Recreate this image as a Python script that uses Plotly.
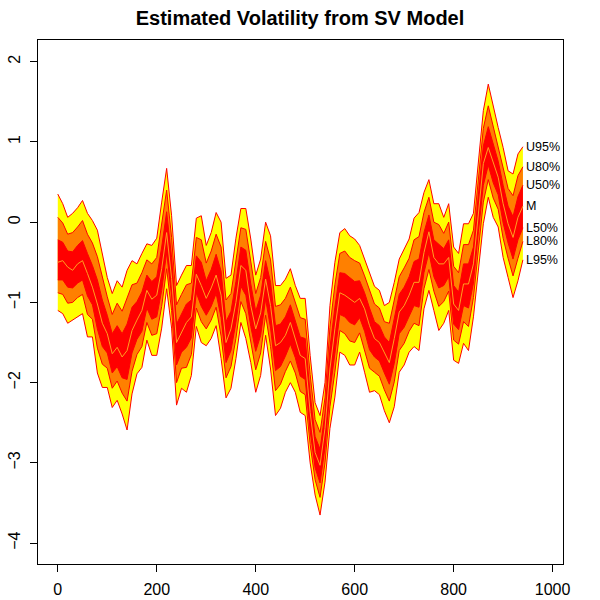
import plotly.graph_objects as go

# time index (every 10 steps)
t = list(range(0, 950, 10))

u95 = [0.35, 0.23, 0.06, 0.11, 0.18, 0.27, 0.11, 0.02, -0.10, -0.39,
       -0.69, -0.89, -0.73, -0.81, -0.60, -0.48, -0.52, -0.39, -0.27, -0.29,
       -0.20, 0.25, 0.67, 0.08, -0.79, -0.66, -0.54, -0.54, 0.05, 0.08,
       -0.29, -0.13, 0.12, 0.00, -0.70, -0.66, -0.20, 0.17, 0.17, -0.21,
       -0.66, -0.46, 0.00, -0.17, -0.79, -0.79, -0.71, -0.58, -0.79, -0.95,
       -0.95, -1.66, -2.25, -2.41, -2.00, -1.04, -0.50, -0.13, -0.08, -0.17,
       -0.21, -0.29, -0.46, -0.62, -0.80, -0.85, -1.04, -1.00, -0.75, -0.46,
       -0.33, -0.21, 0.05, 0.12, 0.37, 0.53, 0.23, 0.23, 0.06, 0.23,
       -0.31, -0.39, -0.02, -0.02, 0.11, 0.73, 1.39, 1.72, 1.43, 1.18,
       0.93, 0.64, 0.60, 0.85, 0.94]

u80 = [0.06, -0.01, -0.15, -0.13, -0.06, 0.02, -0.15, -0.26, -0.43, -0.69,
       -0.93, -1.15, -1.01, -1.11, -0.94, -0.78, -0.76, -0.63, -0.47, -0.52,
       -0.44, -0.03, 0.40, -0.19, -1.03, -0.90, -0.78, -0.76, -0.19, -0.22,
       -0.51, -0.36, -0.15, -0.31, -0.97, -0.89, -0.47, -0.07, -0.09, -0.49,
       -0.89, -0.69, -0.24, -0.47, -1.05, -1.03, -0.95, -0.81, -1.01, -1.19,
       -1.21, -1.90, -2.46, -2.62, -2.19, -1.31, -0.78, -0.39, -0.36, -0.44,
       -0.48, -0.51, -0.67, -0.85, -1.02, -1.07, -1.24, -1.26, -0.99, -0.68,
       -0.57, -0.45, -0.22, -0.18, 0.12, 0.31, 0.00, -0.03, -0.14, 0.00,
       -0.55, -0.63, -0.28, -0.28, -0.10, 0.53, 1.17, 1.45, 1.19, 0.97,
       0.69, 0.42, 0.33, 0.58, 0.69]

u50 = [-0.22, -0.25, -0.36, -0.37, -0.29, -0.23, -0.39, -0.54, -0.72, -0.97,
       -1.16, -1.39, -1.29, -1.39, -1.27, -1.06, -0.99, -0.87, -0.66, -0.74,
       -0.68, -0.31, 0.13, -0.44, -1.27, -1.14, -1.02, -0.97, -0.42, -0.50,
       -0.73, -0.59, -0.40, -0.61, -1.24, -1.11, -0.74, -0.31, -0.35, -0.77,
       -1.11, -0.91, -0.48, -0.75, -1.29, -1.27, -1.18, -1.03, -1.23, -1.43,
       -1.45, -2.14, -2.67, -2.83, -2.38, -1.57, -1.06, -0.63, -0.64, -0.69,
       -0.74, -0.73, -0.88, -1.07, -1.24, -1.29, -1.43, -1.50, -1.22, -0.90,
       -0.81, -0.68, -0.49, -0.46, -0.13, 0.09, -0.22, -0.27, -0.33, -0.22,
       -0.79, -0.87, -0.52, -0.52, -0.31, 0.34, 0.95, 1.19, 0.96, 0.76,
       0.46, 0.20, 0.07, 0.32, 0.46]

med = [-0.50, -0.48, -0.56, -0.60, -0.52, -0.48, -0.64, -0.81, -1.02, -1.26,
       -1.39, -1.64, -1.56, -1.68, -1.60, -1.35, -1.22, -1.10, -0.85, -0.96,
       -0.91, -0.58, -0.13, -0.70, -1.50, -1.37, -1.25, -1.18, -0.65, -0.79,
       -0.95, -0.82, -0.66, -0.91, -1.50, -1.33, -1.00, -0.54, -0.60, -1.04,
       -1.33, -1.13, -0.71, -1.04, -1.54, -1.50, -1.41, -1.25, -1.45, -1.66,
       -1.70, -2.37, -2.87, -3.03, -2.57, -1.83, -1.33, -0.88, -0.91, -0.95,
       -1.00, -0.95, -1.08, -1.29, -1.45, -1.50, -1.62, -1.75, -1.45, -1.12,
       -1.04, -0.91, -0.75, -0.75, -0.38, -0.12, -0.44, -0.52, -0.52, -0.44,
       -1.02, -1.10, -0.77, -0.77, -0.52, 0.15, 0.73, 0.93, 0.73, 0.56,
       0.23, -0.02, -0.19, 0.06, 0.20]

l50 = [-0.72, -0.72, -0.81, -0.82, -0.76, -0.72, -0.92, -1.03, -1.33, -1.55,
       -1.63, -1.88, -1.80, -1.94, -1.96, -1.63, -1.46, -1.36, -1.07, -1.21,
       -1.18, -0.85, -0.38, -0.92, -1.78, -1.62, -1.56, -1.44, -0.88, -1.05,
       -1.16, -1.05, -0.89, -1.19, -1.75, -1.60, -1.25, -0.80, -0.91, -1.30,
       -1.61, -1.41, -0.96, -1.32, -1.85, -1.80, -1.67, -1.52, -1.69, -1.92,
       -1.96, -2.60, -3.06, -3.25, -2.81, -2.10, -1.64, -1.15, -1.18, -1.25,
       -1.28, -1.19, -1.36, -1.59, -1.68, -1.73, -1.88, -2.02, -1.76, -1.39,
       -1.31, -1.17, -1.04, -1.06, -0.63, -0.38, -0.68, -0.82, -0.79, -0.68,
       -1.27, -1.34, -1.04, -1.07, -0.76, -0.12, 0.46, 0.71, 0.49, 0.34,
       -0.01, -0.26, -0.46, -0.22, -0.07]

l80 = [-0.88, -0.90, -1.01, -1.00, -0.94, -0.90, -1.15, -1.21, -1.57, -1.77,
       -1.82, -2.07, -1.98, -2.13, -2.23, -1.86, -1.65, -1.55, -1.25, -1.41,
       -1.39, -1.05, -0.58, -1.10, -2.00, -1.82, -1.81, -1.65, -1.07, -1.24,
       -1.33, -1.22, -1.06, -1.42, -1.94, -1.80, -1.45, -0.99, -1.14, -1.49,
       -1.84, -1.63, -1.16, -1.55, -2.10, -2.02, -1.86, -1.73, -1.88, -2.11,
       -2.15, -2.77, -3.21, -3.43, -3.00, -2.30, -1.87, -1.35, -1.39, -1.48,
       -1.50, -1.38, -1.59, -1.82, -1.87, -1.92, -2.09, -2.23, -1.99, -1.60,
       -1.51, -1.36, -1.26, -1.29, -0.83, -0.59, -0.86, -1.05, -0.99, -0.86,
       -1.47, -1.52, -1.24, -1.30, -0.94, -0.33, 0.25, 0.53, 0.30, 0.16,
       -0.20, -0.45, -0.67, -0.45, -0.24]

l95 = [-1.10, -1.14, -1.26, -1.22, -1.18, -1.14, -1.43, -1.43, -1.88, -2.06,
       -2.06, -2.31, -2.22, -2.39, -2.59, -2.14, -1.89, -1.81, -1.47, -1.66,
       -1.66, -1.32, -0.83, -1.32, -2.28, -2.07, -2.12, -1.91, -1.30, -1.50,
       -1.54, -1.45, -1.29, -1.70, -2.19, -2.07, -1.70, -1.25, -1.45, -1.75,
       -2.12, -1.91, -1.41, -1.83, -2.41, -2.32, -2.12, -2.00, -2.12, -2.37,
       -2.41, -3.00, -3.40, -3.65, -3.24, -2.57, -2.18, -1.62, -1.66, -1.78,
       -1.78, -1.62, -1.87, -2.12, -2.10, -2.15, -2.35, -2.50, -2.30, -1.87,
       -1.78, -1.62, -1.55, -1.60, -1.08, -0.85, -1.10, -1.35, -1.26, -1.10,
       -1.72, -1.76, -1.51, -1.60, -1.18, -0.60, -0.02, 0.31, 0.06, -0.06,
       -0.44, -0.69, -0.94, -0.73, -0.47]

band_labels = ["U95%", "U80%", "U50%", "M", "L50%", "L80%", "L95%"]

YELLOW = "#FFFF00"
ORANGE = "#FF8000"
RED = "#FF0000"
MEDCOL = "#FFA020"

fig = go.Figure()

def band(upper, lower, fillcol):
    fig.add_trace(go.Scatter(x=t, y=upper, mode="lines",
                             line=dict(color=RED, width=1),
                             showlegend=False, hoverinfo="skip"))
    fig.add_trace(go.Scatter(x=t, y=lower, mode="lines", fill="tonexty",
                             fillcolor=fillcol,
                             line=dict(color=RED, width=1),
                             showlegend=False, hoverinfo="skip"))

band(u95, l95, YELLOW)
band(u80, l80, ORANGE)
band(u50, l50, RED)
fig.add_trace(go.Scatter(x=t, y=med, mode="lines",
                         line=dict(color=MEDCOL, width=1),
                         showlegend=False, hoverinfo="skip"))

series = [u95, u80, u50, med, l50, l80, l95]
for lab, s in zip(band_labels, series):
    fig.add_annotation(x=t[-1] + 2, y=s[-1], text=lab, showarrow=False,
                       xanchor="left", yanchor="middle",
                       font=dict(family="Liberation Sans, Arial", size=12.5,
                                 color="black"))

axis_font = dict(family="Liberation Sans, Arial", size=16, color="black")
fig.update_layout(
    width=600, height=600,
    margin=dict(l=38, r=37, t=40, b=36, autoexpand=False),
    paper_bgcolor="white", plot_bgcolor="white",
    title=dict(text="<b>Estimated Volatility from SV Model</b>",
               x=0.5, xanchor="center", y=0.97, yanchor="middle",
               font=dict(family="Liberation Sans, Arial", size=20,
                         color="black")),
    xaxis=dict(range=[-40, 1021], tickvals=[0, 200, 400, 600, 800, 1000],
               showgrid=False, zeroline=False, showline=True, mirror=True,
               linecolor="black", linewidth=1, ticks="outside", ticklen=7,
               tickcolor="black", tickfont=axis_font, ticklabelstandoff=4,
               automargin=False),
    yaxis=dict(range=[-4.26, 2.27], tickvals=[-4, -3, -2, -1, 0, 1, 2],
               showgrid=False, zeroline=False, showline=True, mirror=True,
               linecolor="black", linewidth=1, ticks="outside", ticklen=7,
               tickcolor="black", tickfont=axis_font, tickangle=-90,
               ticklabelstandoff=4, automargin=False),
)

fig.write_html("out.html",
               config={"displayModeBar": False},
               post_script="document.body.style.margin='0';"
                           "document.body.style.padding='0';")
